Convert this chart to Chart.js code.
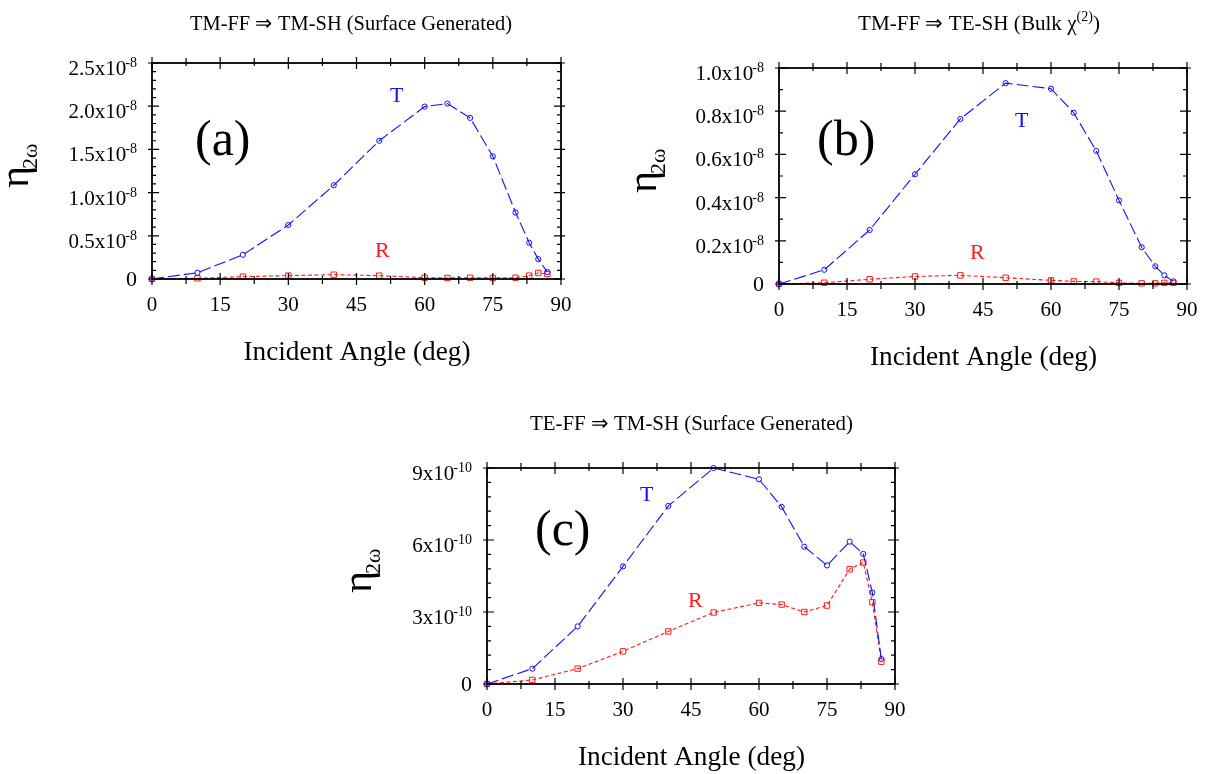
<!DOCTYPE html>
<html>
<head>
<meta charset="utf-8">
<script src="https://cdn.jsdelivr.net/npm/chart.js@4.4.1/dist/chart.umd.min.js"></script>
<style>
  html, body { margin: 0; padding: 0; background: #fff; }
  #wrap { position: relative; width: 1211px; height: 774px; overflow: hidden; }
  canvas { position: absolute; left: 0; top: 0; }
</style>
</head>
<body>
<div id="wrap">
  <canvas id="cA" width="1211" height="774"></canvas>
  <canvas id="cB" width="1211" height="774"></canvas>
  <canvas id="cC" width="1211" height="774"></canvas>
</div>
<script>
// incident angles (deg), same for every panel
const angles = [0, 10, 20, 30, 40, 50, 60, 65, 70, 75, 80, 83, 85, 87];

// (a) TM-FF -> TM-SH (surface)
const tA = [0, 0.073e-8, 0.28e-8, 0.625e-8, 1.085e-8, 1.60e-8, 1.995e-8, 2.03e-8, 1.865e-8, 1.42e-8, 0.77e-8, 0.42e-8, 0.23e-8, 0.08e-8];
const rA = [0, 0.008e-8, 0.027e-8, 0.039e-8, 0.05e-8, 0.039e-8, 0.015e-8, 0.012e-8, 0.015e-8, 0.012e-8, 0.015e-8, 0.039e-8, 0.07e-8, 0.058e-8];

// (b) TM-FF -> TE-SH (bulk)
const tB = [0, 0.066e-8, 0.25e-8, 0.508e-8, 0.764e-8, 0.93e-8, 0.904e-8, 0.793e-8, 0.616e-8, 0.387e-8, 0.17e-8, 0.082e-8, 0.04e-8, 0.012e-8];
const rB = [0, 0.006e-8, 0.022e-8, 0.035e-8, 0.04e-8, 0.029e-8, 0.017e-8, 0.012e-8, 0.011e-8, 0.005e-8, 0.003e-8, 0.003e-8, 0.005e-8, 0.005e-8];

// (c) TE-FF -> TM-SH (surface)
const tC = [0, 0.64e-10, 2.40e-10, 4.90e-10, 7.42e-10, 9.0e-10, 8.53e-10, 7.38e-10, 5.72e-10, 4.94e-10, 5.93e-10, 5.42e-10, 3.81e-10, 1.04e-10];
const rC = [0, 0.17e-10, 0.64e-10, 1.36e-10, 2.19e-10, 2.98e-10, 3.38e-10, 3.31e-10, 3.0e-10, 3.27e-10, 4.78e-10, 5.06e-10, 3.41e-10, 0.93e-10];

// ticks
const xTicks = [0, 15, 30, 45, 60, 75, 90];
const xMinor = [7.5, 22.5, 37.5, 52.5, 67.5, 82.5];

const yTicksA = [0, 0.5e-8, 1.0e-8, 1.5e-8, 2.0e-8, 2.5e-8];
const yLabelsA = ['0', '0.5x10', '1.0x10', '1.5x10', '2.0x10', '2.5x10'];
const yTicksB = [0, 0.2e-8, 0.4e-8, 0.6e-8, 0.8e-8, 1.0e-8];
const yLabelsB = ['0', '0.2x10', '0.4x10', '0.6x10', '0.8x10', '1.0x10'];
const yTicksC = [0, 3e-10, 6e-10, 9e-10];
const yLabelsC = ['0', '3x10', '6x10', '9x10'];

const BLUE = '#1010ff';
const RED = '#ff1a1a';
const SERIF = '"Liberation Serif", "Times New Roman", serif';

function font(px) { return px + 'px ' + SERIF; }

// draw a run of text parts (different sizes / raised) squeezed to width w
function drawRich(ctx, parts, x0, base, w) {
  let nat = 0;
  parts.forEach(p => { ctx.font = font(p.size); nat += ctx.measureText(p.t).width; });
  const s = w ? w / nat : 1;
  ctx.save();
  ctx.translate(x0, base);
  ctx.scale(s, 1);
  let x = 0;
  parts.forEach(p => {
    ctx.font = font(p.size);
    ctx.textAlign = 'left';
    ctx.textBaseline = 'alphabetic';
    ctx.fillText(p.t, x, p.dy || 0);
    x += ctx.measureText(p.t).width;
  });
  ctx.restore();
}

const framePlugin = {
  id: 'frame',
  afterDraw(chart, args, o) {
    const ctx = chart.ctx;
    const { left, right, top, bottom } = chart.chartArea;
    const xs = chart.scales.x, ys = chart.scales.y;
    ctx.save();
    ctx.strokeStyle = '#000';
    ctx.fillStyle = '#000';

    // box
    ctx.lineWidth = 1.8;
    ctx.strokeRect(left, top, right - left, bottom - top);

    // ticks
    ctx.lineWidth = 1.2;
    ctx.beginPath();
    xTicks.forEach(v => {
      const px = xs.getPixelForValue(v);
      ctx.moveTo(px, bottom + 6); ctx.lineTo(px, bottom - 6);
      ctx.moveTo(px, top - 6); ctx.lineTo(px, top + 6);
    });
    xMinor.forEach(v => {
      const px = xs.getPixelForValue(v);
      ctx.moveTo(px, bottom + 5); ctx.lineTo(px, bottom - 3);
      ctx.moveTo(px, top - 5); ctx.lineTo(px, top + 3);
    });
    o.yTicks.forEach(v => {
      const py = ys.getPixelForValue(v);
      ctx.moveTo(left - 4, py); ctx.lineTo(left + 7, py);
      ctx.moveTo(right + 4, py); ctx.lineTo(right - 7, py);
    });
    for (let v = o.yMinor; v < o.yTicks[o.yTicks.length - 1] - 1e-20; v += o.yMinor) {
      const py = ys.getPixelForValue(v);
      ctx.moveTo(left, py); ctx.lineTo(left + 4, py);
      ctx.moveTo(right, py); ctx.lineTo(right - 4, py);
    }
    ctx.stroke();

    // x tick labels
    ctx.font = font(21);
    ctx.textAlign = 'center';
    ctx.textBaseline = 'alphabetic';
    xTicks.forEach(v => ctx.fillText(String(v), xs.getPixelForValue(v), bottom + 32));

    // y tick labels with exponent
    const xr = left - 15;
    o.yTicks.forEach((v, i) => {
      const py = ys.getPixelForValue(v);
      const lab = o.yLabels[i];
      if (lab === '0') {
        ctx.font = font(22);
        ctx.textAlign = 'right';
        ctx.fillText(lab, xr, py + 7);
      } else {
        ctx.font = font(14);
        const ew = ctx.measureText(o.exp).width;
        ctx.textAlign = 'left';
        ctx.fillText(o.exp, xr - ew, py + 4);
        ctx.font = font(21);
        const bw = ctx.measureText(lab).width;
        ctx.fillText(lab, xr - ew - bw + 1, py + 12);
      }
    });

    // x axis title
    const cx = (left + right) / 2;
    drawRich(ctx, [{ t: 'Incident Angle (deg)', size: 27 }], cx - 113, bottom + 81, 227);

    // y axis title (rotated)
    ctx.save();
    ctx.translate(o.yTitleX, (top + bottom) / 2 + 17);
    ctx.rotate(-Math.PI / 2);
    ctx.font = font(42);
    ctx.textAlign = 'left';
    ctx.fillText('\u03b7', 0, 0);
    const ew2 = ctx.measureText('\u03b7').width;
    ctx.font = font(22);
    ctx.fillText('2\u03c9', ew2 - 3, 9);
    ctx.restore();

    // panel title
    drawRich(ctx, o.title, o.titleX, o.titleY, o.titleW);

    // panel letter
    ctx.font = font(50);
    ctx.textAlign = 'left';
    ctx.fillText(o.letter, o.letterX, o.letterY);

    // curve labels
    ctx.font = font(22);
    ctx.fillStyle = BLUE;
    ctx.fillText('T', o.tX, o.tY);
    ctx.fillStyle = RED;
    ctx.fillText('R', o.rX, o.rY);

    ctx.restore();
  }
};

function pts(ys) { return angles.map((a, i) => ({ x: a, y: ys[i] })); }

function makeChart(id, pad, tData, rData, yMax, frameOpts) {
  return new Chart(document.getElementById(id), {
    type: 'line',
    data: {
      datasets: [
        {
          label: 'T', data: pts(tData),
          borderColor: BLUE, borderWidth: 1.1, borderDash: [12, 4],
          pointStyle: 'circle', pointRadius: 2.6, pointBorderWidth: 1,
          pointBorderColor: BLUE, pointBackgroundColor: 'rgba(0,0,0,0)',
          tension: 0, fill: false, clip: false
        },
        {
          label: 'R', data: pts(rData),
          borderColor: RED, borderWidth: 1.1, borderDash: [4, 2.5],
          pointStyle: 'rect', pointRadius: 3.8, pointBorderWidth: 1,
          pointBorderColor: RED, pointBackgroundColor: 'rgba(0,0,0,0)',
          tension: 0, fill: false, clip: false
        }
      ]
    },
    options: {
      responsive: false,
      animation: false,
      devicePixelRatio: 1,
      events: [],
      layout: { padding: pad },
      plugins: {
        legend: { display: false },
        tooltip: { enabled: false },
        frame: frameOpts
      },
      scales: {
        x: { type: 'linear', min: 0, max: 90, display: false },
        y: { type: 'linear', min: 0, max: yMax, display: false }
      }
    },
    plugins: [framePlugin]
  });
}

makeChart('cA', { left: 152, top: 63, right: 1211 - 561, bottom: 774 - 279 }, tA, rA, 2.5e-8, {
  yTicks: yTicksA, yLabels: yLabelsA, exp: '-8', yMinor: 0.1e-8, yTitleX: 28,
  title: [{ t: 'TM-FF \u21d2 TM-SH (Surface Generated)', size: 21 }], titleX: 190, titleY: 30, titleW: 322,
  letter: '(a)', letterX: 195, letterY: 155,
  tX: 390, tY: 102, rX: 375, rY: 257
});

makeChart('cB', { left: 779, top: 68, right: 1211 - 1187, bottom: 774 - 284 }, tB, rB, 1.0e-8, {
  yTicks: yTicksB, yLabels: yLabelsB, exp: '-8', yMinor: 0.1e-8, yTitleX: 656,
  title: [
    { t: 'TM-FF \u21d2 TE-SH (Bulk \u03c7', size: 21 },
    { t: '(2)', size: 14, dy: -9 },
    { t: ')', size: 21 }
  ], titleX: 858, titleY: 30, titleW: 242,
  letter: '(b)', letterX: 817, letterY: 155,
  tX: 1015, tY: 127, rX: 970, rY: 259
});

makeChart('cC', { left: 487, top: 468, right: 1211 - 895, bottom: 774 - 684 }, tC, rC, 9e-10, {
  yTicks: yTicksC, yLabels: yLabelsC, exp: '-10', yMinor: 0.6e-10, yTitleX: 371,
  title: [{ t: 'TE-FF \u21d2 TM-SH (Surface Generated)', size: 21 }], titleX: 530, titleY: 430, titleW: 323,
  letter: '(c)', letterX: 535, letterY: 545,
  tX: 640, tY: 501, rX: 688, rY: 607
});
</script>
</body>
</html>
